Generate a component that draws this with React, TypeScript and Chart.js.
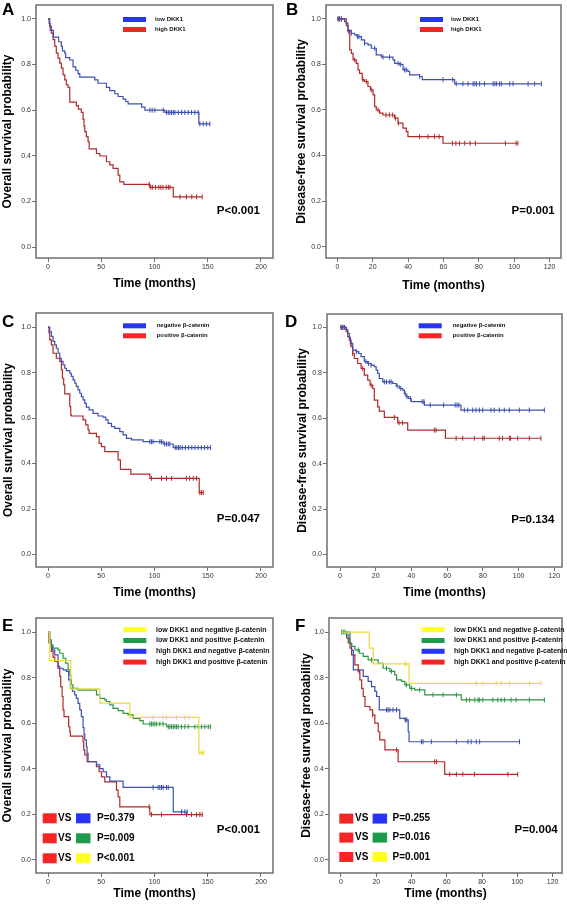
import React, { useEffect, useRef } from "react";
import { Chart, registerables } from "chart.js";
Chart.register(...registerables);

const FONT = "'Liberation Sans', Arial, Helvetica, sans-serif";
const FRAME = "#6f6f6f";

// ---- tick labels ----
const monthTicks200 = [0, 50, 100, 150, 200];
const monthTicks120 = [0, 20, 40, 60, 80, 100, 120];
const probTicks = [0, 0.2, 0.4, 0.6, 0.8, 1.0];

// ---- legend labels / texts ----
const dkkLabels = ["low DKK1", "high DKK1"];
const catLabels = ["negative β-catenin", "positive β-catenin"];
const comboLabels = [
  "low DKK1 and negative β-catenin",
  "low DKK1 and positive β-catenin",
  "high DKK1 and negative β-catenin",
  "high DKK1 and positive β-catenin",
];
const pValues = ["P<0.001", "P=0.001", "P=0.047", "P=0.134", "P<0.001", "P=0.004"];
const ePairs = ["P=0.379", "P=0.009", "P<0.001"];
const fPairs = ["P=0.255", "P=0.016", "P=0.001"];

// ---- Panel A: overall survival by DKK1 ----
const aLowT = [0, 1, 2, 5, 10, 12.5, 13.5, 15.7, 16.6, 20.4, 23.5, 26, 28.2, 29.8, 43.9, 47, 54.9, 58, 62.7, 65.8, 70.5, 73, 75.2, 88, 91, 109.7, 141.7];
const aLowS = [1, 0.98, 0.95, 0.92, 0.9, 0.88, 0.86, 0.85, 0.83, 0.82, 0.79, 0.775, 0.76, 0.745, 0.733, 0.718, 0.7, 0.686, 0.672, 0.66, 0.648, 0.638, 0.628, 0.613, 0.6, 0.59, 0.54];
const aLowC = [95.6, 97.8, 100.3, 108.2, 111.3, 112.9, 114.4, 116, 117.6, 119.1, 122.3, 125.4, 128.5, 131.7, 134.8, 137.9, 141, 142.6, 145.8, 148.9, 152];
const aHighT = [0, 1.6, 3.1, 4.7, 6.3, 7.8, 9.4, 11, 12.5, 14.1, 15.7, 17.2, 18.8, 20.4, 26.6, 28.5, 31.3, 32.9, 33.8, 34.5, 36, 37.6, 38.6, 45.5, 48.6, 54.9, 58, 61.1, 65.8, 67.4, 71.2, 95.6, 117.6];
const aHighS = [1, 0.968, 0.938, 0.909, 0.88, 0.85, 0.828, 0.806, 0.784, 0.755, 0.733, 0.711, 0.7, 0.635, 0.62, 0.605, 0.59, 0.56, 0.53, 0.506, 0.484, 0.462, 0.43, 0.41, 0.399, 0.374, 0.36, 0.345, 0.315, 0.286, 0.275, 0.262, 0.22];
const aHighC = [95, 96.5, 98, 101, 104, 106, 108, 111, 113, 114.5, 124, 130, 135, 139.5, 144.8];

// ---- Panel B: disease-free survival by DKK1 ----
const bLowT = [0, 5.1, 6, 7.9, 9.8, 11.1, 13.6, 15.4, 17.3, 19.2, 22, 24.9, 31.5, 32.4, 35.2, 37.1, 39.9, 40.9, 46.5, 48, 66.3];
const bLowS = [1, 0.981, 0.95, 0.937, 0.93, 0.922, 0.908, 0.893, 0.886, 0.871, 0.842, 0.832, 0.82, 0.805, 0.8, 0.776, 0.769, 0.754, 0.747, 0.733, 0.715];
const bLowC = [0.4, 1.3, 2.3, 7.9, 11.5, 12.2, 15.4, 21.1, 25.8, 29.5, 34.3, 35.6, 38, 38.9, 46.5, 59.7, 65.2, 67.2, 71, 73.9, 76.7, 77.7, 78.6, 80.4, 83.2, 88, 89, 89.9, 91.7, 92.7, 97.4, 99.3, 107.8, 111.5, 115.3];
const bHighT = [0, 4.1, 5.1, 6, 7, 7.9, 8.9, 10.7, 11.7, 12.6, 14.1, 15.4, 17.3, 18.7, 20.2, 21.1, 22, 23.9, 25.8, 32.4, 34.3, 37.1, 39, 39.9, 59.7];
const bHighS = [1, 0.988, 0.97, 0.944, 0.864, 0.849, 0.82, 0.805, 0.776, 0.761, 0.732, 0.725, 0.703, 0.688, 0.666, 0.615, 0.6, 0.586, 0.578, 0.564, 0.542, 0.52, 0.505, 0.483, 0.454];
const bHighC = [0.4, 1.3, 2.3, 6.5, 9.8, 14.5, 16.4, 19.2, 23, 27.5, 29.4, 31.3, 32.8, 34.5, 46.5, 51.3, 55, 57.5, 65, 67, 69, 72, 75, 78, 95, 101, 102.1];

// ---- Panel C: overall survival by beta-catenin ----
const cNegT = [0, 1.6, 3.1, 4.7, 6.3, 7.8, 9.4, 11, 12.5, 14.1, 15.7, 17.2, 20.4, 21.9, 23.5, 25.1, 26.6, 28.2, 29.8, 31.3, 32.9, 34.5, 36, 38.6, 42.3, 47, 51.7, 54.2, 56.4, 59.6, 62.7, 67.4, 70.5, 73.7, 78.4, 89.3, 108.2, 117.6];
const cNegS = [1, 0.98, 0.959, 0.937, 0.922, 0.907, 0.885, 0.863, 0.849, 0.834, 0.819, 0.809, 0.797, 0.783, 0.768, 0.753, 0.739, 0.724, 0.709, 0.694, 0.68, 0.665, 0.648, 0.636, 0.621, 0.609, 0.604, 0.592, 0.577, 0.562, 0.555, 0.54, 0.526, 0.511, 0.504, 0.496, 0.486, 0.47];
const cNegC = [95.6, 97.2, 98.7, 105, 106.6, 109.5, 111.3, 112.9, 114.4, 119.5, 121, 122.5, 124, 126, 129, 132, 135, 138, 141, 144, 147, 150, 152.7];
const cPosT = [0, 0.9, 1.6, 3.1, 4.7, 7.8, 11, 12.5, 13.5, 14.7, 15.7, 20.4, 21.3, 21.9, 32.9, 35.4, 37.6, 38.6, 45.5, 48, 50.2, 53.3, 65.8, 68, 77.7, 95.6, 142];
const cPosS = [1, 0.974, 0.944, 0.922, 0.885, 0.863, 0.849, 0.812, 0.775, 0.746, 0.706, 0.65, 0.614, 0.609, 0.592, 0.57, 0.548, 0.533, 0.518, 0.489, 0.474, 0.452, 0.416, 0.374, 0.353, 0.335, 0.272];
const cPosC = [97.2, 106.6, 111.3, 116, 130, 133, 136.4, 139.5, 142.6, 144.2, 145.8];

// ---- Panel D: disease-free survival by beta-catenin ----
const dNegT = [0, 3.4, 4.3, 5.2, 5.8, 7.1, 9, 10.5, 11.8, 13.6, 15.5, 17.4, 19.2, 20.2, 21.1, 22, 23.9, 29.5, 31.4, 33.2, 35.1, 36, 37, 38.4, 39.8, 47.2, 67.7];
const dNegS = [1, 0.991, 0.974, 0.956, 0.93, 0.9, 0.893, 0.885, 0.871, 0.849, 0.841, 0.834, 0.827, 0.812, 0.797, 0.775, 0.76, 0.753, 0.742, 0.731, 0.724, 0.709, 0.695, 0.687, 0.673, 0.658, 0.636];
const dNegC = [0.6, 1.5, 2.4, 5.8, 9.3, 14.5, 16, 17.4, 24.8, 26, 27.6, 28.6, 32, 34, 36.4, 37.5, 39.5, 46, 47, 50.5, 58, 64.5, 65.5, 66.5, 69.6, 71.5, 74.3, 76.1, 78, 79.9, 84.5, 86.4, 89.2, 92, 94.8, 100.4, 106, 114.4];
const dPosT = [0, 3.4, 4.3, 5.2, 6.2, 7.1, 8, 9.9, 11.8, 13.6, 15.5, 16.8, 18.3, 19.2, 21.1, 22, 24.8, 32.3, 37.9, 59];
const dPosS = [1, 0.981, 0.959, 0.944, 0.915, 0.885, 0.863, 0.841, 0.819, 0.79, 0.768, 0.746, 0.731, 0.68, 0.65, 0.631, 0.604, 0.58, 0.548, 0.512];
const dPosC = [0.6, 1.5, 2.4, 7.1, 12.7, 17.4, 30.4, 33, 35, 52.8, 53.8, 65, 68.7, 75.2, 79.9, 80.8, 89.2, 91, 94.8, 95.5, 99.5, 106, 112.5];

// ---- Panel E: overall survival, combined groups ----
const eLnT = [0, 1.6, 21.3, 48.6, 76.8, 141.7];
const eLnS = [1, 0.875, 0.75, 0.6875, 0.625, 0.47];
const eLnC = [98.7, 108, 111.3, 120.7, 128.5, 132.3, 142.6, 144.5, 146.4];
const eLpT = [0, 1.6, 3.1, 4.7, 9.4, 11, 14.1, 16.6, 18.8, 20.4, 21.3, 21.9, 23.5, 28.2, 45.5, 48.6, 53.3, 54.9, 58, 61.1, 65.8, 70.5, 75.2, 79.9, 86.2, 89.3, 111.3];
const eLpS = [1, 0.966, 0.944, 0.93, 0.922, 0.907, 0.885, 0.863, 0.834, 0.812, 0.79, 0.768, 0.753, 0.745, 0.724, 0.709, 0.702, 0.695, 0.68, 0.665, 0.655, 0.643, 0.636, 0.621, 0.611, 0.596, 0.584];
const eLpC = [95.6, 97.2, 98.7, 100.3, 102, 105, 108, 112.9, 114.4, 116, 117.6, 119.1, 120.7, 122.3, 125.4, 128.5, 131.7, 137.9, 141, 144.2, 147.3, 150.5, 152.7];
const eHnT = [0, 1.6, 3.1, 4.1, 6.3, 9.4, 11, 14.1, 17.2, 19.4, 21, 22.9, 25.1, 26.6, 28.2, 29.8, 31.3, 32.9, 33.8, 34.5, 36, 36.7, 37.6, 45.5, 48.6, 51.7, 54.9, 58, 70.5, 117.6];
const eHnS = [1, 0.96, 0.94, 0.922, 0.9, 0.849, 0.841, 0.834, 0.827, 0.79, 0.753, 0.74, 0.724, 0.709, 0.687, 0.658, 0.628, 0.58, 0.55, 0.526, 0.496, 0.467, 0.43, 0.416, 0.4, 0.386, 0.364, 0.345, 0.317, 0.21];
const eHnC = [98.7, 103.4, 105, 106.6, 108.2, 111.3, 112.9, 125.4, 128.5, 130.7];
const eHpT = [0, 0.9, 3.1, 4.7, 6.3, 9.4, 11, 11.9, 13.2, 14.1, 15, 19.4, 20.4, 21, 32.9, 33.5, 34.5, 36.7, 45.5, 48, 50.2, 53.3, 64.3, 65.8, 67.4, 95.6];
const eHpS = [1, 0.952, 0.915, 0.89, 0.871, 0.84, 0.805, 0.76, 0.717, 0.658, 0.628, 0.584, 0.562, 0.543, 0.518, 0.482, 0.46, 0.43, 0.408, 0.386, 0.364, 0.342, 0.305, 0.276, 0.232, 0.198];
const eHpC = [95, 97.2, 106.6, 130, 134.8, 139.5, 142.6, 144.8];

// ---- Panel F: disease-free survival, combined groups ----
const fLnT = [0, 16, 18.3, 38.6];
const fLnS = [1, 0.93, 0.86, 0.775];
const fLnC = [36.2, 37.1, 76.7, 80.4, 88, 90.8, 95.5, 106.8, 113.4];
const fLpT = [0, 3.2, 4.1, 5.1, 6, 7.9, 10.4, 12.6, 15.4, 21.1, 23.9, 27.7, 30.5, 31.5, 34.3, 36.2, 39, 41.8, 47.5, 68.2];
const fLpS = [1, 0.988, 0.97, 0.952, 0.937, 0.922, 0.907, 0.893, 0.878, 0.863, 0.841, 0.827, 0.812, 0.79, 0.783, 0.768, 0.753, 0.746, 0.724, 0.702];
const fLpC = [0.4, 1.3, 2.3, 9.8, 17.3, 25.8, 28.6, 37.1, 39.9, 44.6, 52.2, 57.9, 65.4, 71.1, 73, 75.8, 77.7, 78.6, 80.4, 86.1, 88.9, 90.8, 92.7, 96.4, 99.3, 106.8, 115.3];
const fHnT = [0, 5.1, 6, 7, 12.6, 15.4, 17.3, 19.2, 20.2, 21.7, 33.3, 36.2, 38.1, 38.6];
const fHnS = [1, 0.95, 0.92, 0.834, 0.805, 0.783, 0.76, 0.739, 0.717, 0.658, 0.621, 0.614, 0.562, 0.518];
const fHnC = [25.8, 26.7, 27.7, 29.5, 31.5, 36.5, 37.3, 45.6, 46.5, 51.2, 65.4, 72, 73.8, 76.7, 78.6, 101.2];
const fHpT = [0, 3.2, 4.1, 5.1, 6, 7.9, 9.8, 10.7, 11.7, 12.6, 13.6, 16.4, 17.9, 19.2, 21.1, 22, 24.9, 32.4, 58.8];
const fHpS = [1, 0.974, 0.952, 0.93, 0.9, 0.856, 0.827, 0.79, 0.753, 0.717, 0.673, 0.658, 0.636, 0.6, 0.562, 0.526, 0.482, 0.43, 0.375];
const fHpC = [10.2, 17.9, 31.5, 53.1, 54.1, 61.6, 65.4, 69.1, 75.7, 94.6, 100.2];

// ---- colours ----
const LINE = { blue: "#3d50b0", red: "#b02a2a", green: "#2d9447", yellow: "#e9dc3e" };
const SW = { blue: "#2635f5", red: "#f52525", green: "#1e9a4a", yellow: "#ffff20" };

function survAt(t: number[], s: number[], x: number) {
  let v = s[0];
  for (let i = 0; i < t.length; i++) if (t[i] <= x) v = s[i];
  return v;
}

function kmSets(t: number[], s: number[], c: number[], color: string) {
  const end = Math.max(t[t.length - 1], ...c);
  const pts = t.map((x, i) => ({ x, y: s[i] }));
  pts.push({ x: end, y: s[s.length - 1] });
  return [
    {
      data: pts,
      borderColor: color,
      backgroundColor: color,
      borderWidth: 1.2,
      stepped: "before",
      pointRadius: 0,
      fill: false,
      tension: 0,
      showLine: true,
    },
    {
      data: c.map((x) => ({ x, y: survAt(t, s, x) })),
      showLine: false,
      pointStyle: "line",
      pointRotation: 90,
      pointRadius: 2.5,
      pointBorderColor: color,
      pointBackgroundColor: color,
      pointBorderWidth: 1,
      borderColor: color,
      backgroundColor: color,
    },
  ];
}

type Group = { t: number[]; s: number[]; c: number[]; line: string; sw: string; label: string };
type Panel = {
  letter: string; letterX: number; letterY: number;
  left: number; top: number; w: number; h: number;
  padT: number; padR: number; yW: number; xH: number;
  xMin: number; xMax: number; yMin: number; yMax: number; xTicks: number[];
  yTitle: string; yTitlePad: number; xTitlePad: number;
  groups: Group[];
  legSwX: number; legSwW: number; legTextX: number; legY0: number; legDy: number; legFont: number;
  pText: string; pDx: number; pDy: number;
  vs?: { sw1: number; vsX: number; sw2: number; pX: number; rows: number[]; texts: string[]; colors: string[] };
};

const panels: Panel[] = [
  {
    letter: "A", letterX: 2, letterY: 15, left: 0, top: 0, w: 283, h: 300,
    padT: 5, padR: 10, yW: 36, xH: 42,
    xMin: -11.3, xMax: 211.3, yMin: -0.048, yMax: 1.061, xTicks: monthTicks200,
    yTitle: "Overall survival probability", yTitlePad: 0.3, xTitlePad: 8.8,
    groups: [
      { t: aLowT, s: aLowS, c: aLowC, line: LINE.blue, sw: SW.blue, label: dkkLabels[0] },
      { t: aHighT, s: aHighS, c: aHighC, line: LINE.red, sw: SW.red, label: dkkLabels[1] },
    ],
    legSwX: 87, legSwW: 23, legTextX: 119, legY0: 14.5, legDy: 10, legFont: 6,
    pText: pValues[0], pDx: -13, pDy: -47,
  },
  {
    letter: "B", letterX: 3, letterY: 15, left: 283, top: 0, w: 284, h: 300,
    padT: 5, padR: 6, yW: 43, xH: 42,
    xMin: -6.4, xMax: 126.4, yMin: -0.05, yMax: 1.061, xTicks: monthTicks120,
    yTitle: "Disease-free survival probability", yTitlePad: 11.8, xTitlePad: 7.3,
    groups: [
      { t: bLowT, s: bLowS, c: bLowC, line: LINE.blue, sw: SW.blue, label: dkkLabels[0] },
      { t: bHighT, s: bHighS, c: bHighC, line: LINE.red, sw: SW.red, label: dkkLabels[1] },
    ],
    legSwX: 94, legSwW: 23, legTextX: 125, legY0: 14.5, legDy: 10, legFont: 6,
    pText: pValues[1], pDx: -6.3, pDy: -47,
  },
  {
    letter: "C", letterX: 2, letterY: 27, left: 0, top: 300, w: 283, h: 300,
    padT: 13, padR: 10, yW: 36, xH: 33,
    xMin: -11.3, xMax: 211.3, yMin: -0.055, yMax: 1.062, xTicks: monthTicks200,
    yTitle: "Overall survival probability", yTitlePad: 1.6, xTitlePad: 0,
    groups: [
      { t: cNegT, s: cNegS, c: cNegC, line: LINE.blue, sw: SW.blue, label: catLabels[0] },
      { t: cPosT, s: cPosS, c: cPosC, line: LINE.red, sw: SW.red, label: catLabels[1] },
    ],
    legSwX: 87, legSwW: 23, legTextX: 120.7, legY0: 12.8, legDy: 10, legFont: 6,
    pText: pValues[2], pDx: -13, pDy: -47.7,
  },
  {
    letter: "D", letterX: 2, letterY: 27, left: 283, top: 300, w: 284, h: 300,
    padT: 14, padR: 5, yW: 44, xH: 33,
    xMin: -7.3, xMax: 124.3, yMin: -0.055, yMax: 1.059, xTicks: monthTicks120,
    yTitle: "Disease-free survival probability", yTitlePad: 12.5, xTitlePad: 0,
    groups: [
      { t: dNegT, s: dNegS, c: dNegC, line: LINE.blue, sw: SW.blue, label: catLabels[0] },
      { t: dPosT, s: dPosS, c: dPosC, line: LINE.red, sw: SW.red, label: catLabels[1] },
    ],
    legSwX: 91.7, legSwW: 23, legTextX: 125.7, legY0: 11.8, legDy: 10, legFont: 6,
    pText: pValues[3], pDx: -7.6, pDy: -46.7,
  },
  {
    letter: "E", letterX: 2, letterY: 31, left: 0, top: 600, w: 283, h: 305,
    padT: 18, padR: 10, yW: 36, xH: 32,
    xMin: -11.3, xMax: 211.3, yMin: -0.059, yMax: 1.062, xTicks: monthTicks200,
    yTitle: "Overall survival probability", yTitlePad: 0.6, xTitlePad: 4.3,
    groups: [
      { t: eLnT, s: eLnS, c: eLnC, line: LINE.yellow, sw: SW.yellow, label: comboLabels[0] },
      { t: eLpT, s: eLpS, c: eLpC, line: LINE.green, sw: SW.green, label: comboLabels[1] },
      { t: eHnT, s: eHnS, c: eHnC, line: LINE.blue, sw: SW.blue, label: comboLabels[2] },
      { t: eHpT, s: eHpS, c: eHpC, line: LINE.red, sw: SW.red, label: comboLabels[3] },
    ],
    legSwX: 87.3, legSwW: 23, legTextX: 120, legY0: 11.7, legDy: 10.8, legFont: 7,
    pText: pValues[4], pDx: -13, pDy: -42.7,
    vs: { sw1: 6.7, vsX: 22, sw2: 40, pX: 61, rows: [-54.7, -34.7, -14.7], texts: ePairs, colors: [SW.blue, SW.green, SW.yellow] },
  },
  {
    letter: "F", letterX: 12, letterY: 31, left: 283, top: 600, w: 284, h: 305,
    padT: 18, padR: 5, yW: 46, xH: 32,
    xMin: -6.8, xMax: 125.3, yMin: -0.059, yMax: 1.062, xTicks: monthTicks120,
    yTitle: "Disease-free survival probability", yTitlePad: 16.1, xTitlePad: 4.3,
    groups: [
      { t: fLnT, s: fLnS, c: fLnC, line: LINE.yellow, sw: SW.yellow, label: comboLabels[0] },
      { t: fLpT, s: fLpS, c: fLpC, line: LINE.green, sw: SW.green, label: comboLabels[1] },
      { t: fHnT, s: fHnS, c: fHnC, line: LINE.blue, sw: SW.blue, label: comboLabels[2] },
      { t: fHpT, s: fHpS, c: fHpC, line: LINE.red, sw: SW.red, label: comboLabels[3] },
    ],
    legSwX: 92.6, legSwW: 23, legTextX: 125, legY0: 11.7, legDy: 10.8, legFont: 7,
    pText: pValues[5], pDx: -4.3, pDy: -42.7,
    vs: { sw1: 10.3, vsX: 26, sw2: 43.6, pX: 63.6, rows: [-54.4, -35.4, -16], texts: fPairs, colors: [SW.blue, SW.green, SW.yellow] },
  },
];

function decoPlugin(p: Panel) {
  return {
    id: "deco" + p.letter,
    beforeDatasetsDraw(chart: any) {
      const { ctx, chartArea: a } = chart;
      ctx.save();
      ctx.strokeStyle = FRAME;
      ctx.lineWidth = 1.5;
      ctx.strokeRect(a.left, a.top, a.right - a.left, a.bottom - a.top);
      ctx.restore();
    },
    afterDraw(chart: any) {
      const { ctx, chartArea: a } = chart;
      ctx.save();
      ctx.fillStyle = "#000";
      ctx.textAlign = "left";
      ctx.textBaseline = "alphabetic";
      ctx.font = `bold 17px ${FONT}`;
      ctx.fillText(p.letter, p.letterX, p.letterY);

      p.groups.forEach((g, i) => {
        const cy = a.top + p.legY0 + i * p.legDy;
        ctx.fillStyle = g.sw;
        ctx.fillRect(a.left + p.legSwX, cy - 2.5, p.legSwW, 5);
        ctx.fillStyle = "#111";
        ctx.font = `bold ${p.legFont}px ${FONT}`;
        ctx.textBaseline = "middle";
        ctx.fillText(g.label, a.left + p.legTextX, cy);
      });

      ctx.fillStyle = "#000";
      ctx.font = `bold 11.5px ${FONT}`;
      ctx.textAlign = "right";
      ctx.textBaseline = "middle";
      ctx.fillText(p.pText, a.right + p.pDx, a.bottom + p.pDy);

      if (p.vs) {
        const v = p.vs;
        v.rows.forEach((dy, i) => {
          const cy = a.bottom + dy;
          ctx.fillStyle = SW.red;
          ctx.fillRect(a.left + v.sw1, cy - 5, 14, 10);
          ctx.fillStyle = v.colors[i];
          ctx.fillRect(a.left + v.sw2, cy - 5, 14.5, 10);
          ctx.fillStyle = "#000";
          ctx.font = `bold 10px ${FONT}`;
          ctx.textAlign = "left";
          ctx.textBaseline = "middle";
          ctx.fillText("VS", a.left + v.vsX, cy);
          ctx.fillText(v.texts[i], a.left + v.pX, cy);
        });
      }
      ctx.restore();
    },
  };
}

function zeroPad(sc: any) {
  sc.paddingLeft = 0;
  sc.paddingRight = 0;
  sc.paddingTop = 0;
  sc.paddingBottom = 0;
}

function makeConfig(p: Panel): any {
  const datasets = p.groups.flatMap((g) => kmSets(g.t, g.s, g.c, g.line));
  const gridOpts = { display: true, drawOnChartArea: false, drawTicks: true, tickLength: 4, color: FRAME, lineWidth: 1 };
  return {
    type: "line",
    data: { datasets },
    options: {
      animation: false,
      responsive: false,
      maintainAspectRatio: false,
      events: [],
      layout: { padding: { left: 0, top: p.padT, right: p.padR, bottom: 0 } },
      plugins: { legend: { display: false }, tooltip: { enabled: false }, title: { display: false } },
      scales: {
        x: {
          type: "linear",
          min: p.xMin,
          max: p.xMax,
          afterBuildTicks: (sc: any) => {
            sc.ticks = p.xTicks.map((v) => ({ value: v }));
          },
          afterFit: (sc: any) => {
            sc.height = p.xH;
            zeroPad(sc);
          },
          grid: gridOpts,
          border: { display: false },
          ticks: {
            autoSkip: false,
            maxRotation: 0,
            padding: 1,
            color: "#333",
            font: { family: FONT, size: 7 },
            callback: (v: any) => String(v),
          },
          title: {
            display: true,
            text: "Time (months)",
            color: "#000",
            font: { family: FONT, size: 12, weight: "bold" },
            padding: { top: 0, bottom: p.xTitlePad },
          },
        },
        y: {
          type: "linear",
          min: p.yMin,
          max: p.yMax,
          afterBuildTicks: (sc: any) => {
            sc.ticks = probTicks.map((v) => ({ value: v }));
          },
          afterFit: (sc: any) => {
            sc.width = p.yW;
            zeroPad(sc);
          },
          grid: gridOpts,
          border: { display: false },
          ticks: {
            autoSkip: false,
            padding: 1,
            color: "#333",
            font: { family: FONT, size: 7 },
            callback: (v: any) => Number(v).toFixed(1),
          },
          title: {
            display: true,
            text: p.yTitle,
            color: "#000",
            font: { family: FONT, size: 12, weight: "bold" },
            padding: { top: p.yTitlePad, bottom: 0 },
          },
        },
      },
    },
    plugins: [decoPlugin(p)],
  };
}

function PanelChart({ p }: { p: Panel }) {
  const ref = useRef<HTMLCanvasElement>(null);
  useEffect(() => {
    const chart = new Chart(ref.current as HTMLCanvasElement, makeConfig(p));
    return () => chart.destroy();
  }, [p]);
  return (
    <canvas
      ref={ref}
      width={p.w}
      height={p.h}
      style={{ position: "absolute", left: p.left, top: p.top, width: p.w, height: p.h }}
    />
  );
}

export default function App() {
  return (
    <div style={{ position: "absolute", left: 0, top: 0, width: 567, height: 905, background: "#fff", overflow: "hidden" }}>
      {panels.map((p) => (
        <PanelChart key={p.letter} p={p} />
      ))}
    </div>
  );
}
